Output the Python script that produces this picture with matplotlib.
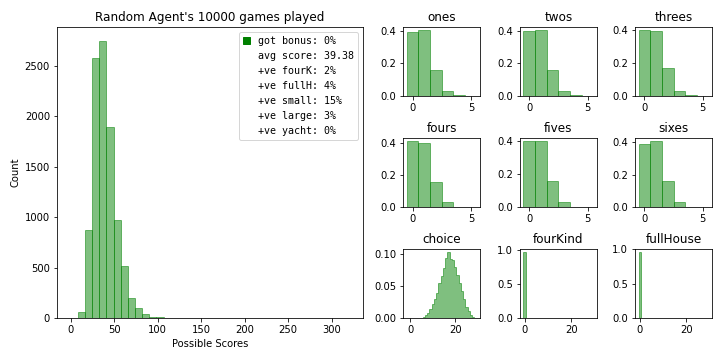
import numpy as np
import matplotlib
matplotlib.use("Agg")
import matplotlib.pyplot as plt
from matplotlib.patches import Patch

# main histogram: 39 bins of total score over 10000 games
score_edges = np.linspace(0, 320, 40)
score_counts = [0, 60, 870, 2580, 2750, 1890, 970, 515, 195, 100, 40, 10, 5, 3, 2] + [0] * 24

legend_labels = ["got bonus: 0%", "avg score: 39.38", "+ve fourK: 2%", "+ve fullH: 4%",
                 "+ve small: 15%", "+ve large: 3%", "+ve yacht: 0%"]

# upper section: share of games per count of dice (0..5)
dice_vals = [0, 1, 2, 3, 4, 5]
upper = {
    "ones":   [0.395, 0.403, 0.162, 0.033, 0.006, 0.001],
    "twos":   [0.396, 0.402, 0.162, 0.033, 0.006, 0.001],
    "threes": [0.398, 0.392, 0.172, 0.032, 0.005, 0.001],
    "fours":  [0.412, 0.398, 0.155, 0.032, 0.002, 0.001],
    "fives":  [0.402, 0.401, 0.158, 0.033, 0.002, 0.001],
    "sixes":  [0.393, 0.408, 0.160, 0.034, 0.002, 0.001],
}

choice_vals = list(range(6, 29))
choice_freq = [0.0016, 0.0044, 0.0077, 0.0137, 0.0213, 0.030, 0.0388, 0.0546, 0.0667, 0.0792,
               0.0951, 0.1038, 0.0929, 0.0907, 0.0809, 0.0672, 0.0546, 0.0426, 0.030, 0.0164,
               0.0104, 0.0044, 0.0016]

# the non-zero scores are too rare to show up in the picture
fourkind_vals = [0]
fourkind_freq = [0.975]
fullhouse_vals = [0]
fullhouse_freq = [0.96]

fig = plt.figure(figsize=(10, 5), dpi=72)

ax = fig.add_axes([0.079, 0.117, 0.425, 0.808])
centers = (score_edges[:-1] + score_edges[1:]) / 2
ax.hist(centers, bins=score_edges, weights=score_counts, color="green", alpha=0.5, edgecolor="green")
ax.set_title("Random Agent's 10000 games played")
ax.set_xlabel("Possible Scores")
ax.set_ylabel("Count")
handles = [Patch(color="green")] + [Patch(visible=False) for _ in legend_labels[1:]]
ax.legend(handles, legend_labels, loc="upper right", prop={"family": "DejaVu Sans Mono", "size": 10},
          handlelength=0.7, handleheight=0.7, handletextpad=0.8)

col_x = [0.560, 0.722, 0.882]
col_w = 0.107
row_y = [0.733, 0.425, 0.117]
row_h = 0.192

small_edges = np.arange(-0.5, 6.0, 1.0)
for i, (name, freq) in enumerate(upper.items()):
    a = fig.add_axes([col_x[i % 3], row_y[i // 3], col_w, row_h])
    a.hist(dice_vals, bins=small_edges, weights=freq, color="green", alpha=0.5, edgecolor="green")
    a.set_title(name)

a = fig.add_axes([col_x[0], row_y[2], col_w, row_h])
a.hist(choice_vals, bins=np.arange(-1.5, 30.0, 1.0), weights=choice_freq, histtype="stepfilled",
       color="green", alpha=0.5, edgecolor="green")
a.set_title("choice")

wide_edges = np.arange(-0.5, 30.0, 1.0)
a = fig.add_axes([col_x[1], row_y[2], col_w, row_h])
a.hist(fourkind_vals, bins=wide_edges, weights=fourkind_freq, color="green", alpha=0.5, edgecolor="green")
a.set_title("fourKind")

a = fig.add_axes([col_x[2], row_y[2], col_w, row_h])
a.hist(fullhouse_vals, bins=wide_edges, weights=fullhouse_freq, color="green", alpha=0.5, edgecolor="green")
a.set_title("fullHouse")

fig.savefig("out.png", dpi=72)
